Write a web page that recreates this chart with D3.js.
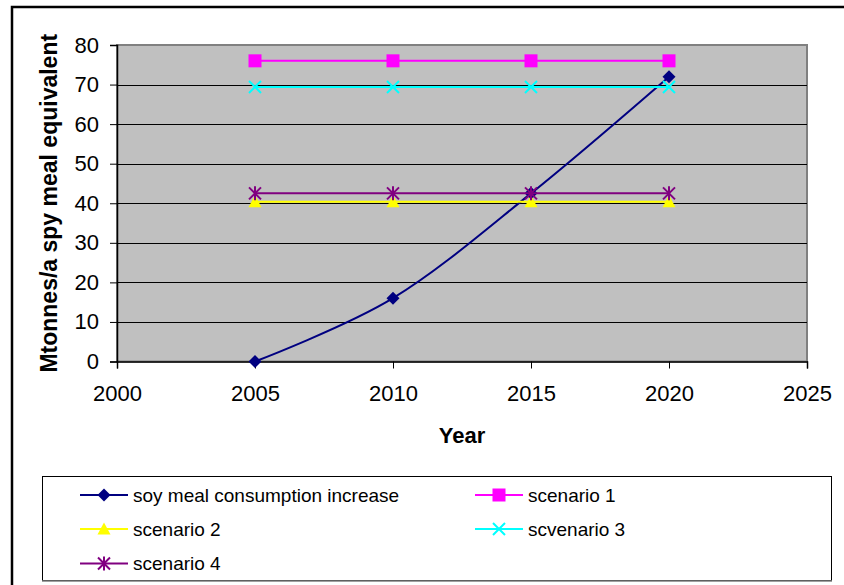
<!DOCTYPE html>
<html>
<head>
<meta charset="utf-8">
<script src="https://cdn.jsdelivr.net/npm/d3@7"></script>
<style>
  html, body { margin: 0; padding: 0; background: #fff; }
  svg { display: block; font-family: "Liberation Sans", Arial, sans-serif; }
</style>
</head>
<body>
<svg id="chart" width="844" height="585"></svg>
<script>
// Soy meal demand projection versus four supply scenarios
const years = [2005, 2010, 2015, 2020];
const soyConsumption = [0, 16, 42.5, 72];
const scenario1 = [76, 76, 76, 76];
const scenario2 = [40.4, 40.4, 40.4, 40.4];
const scenario3 = [69.4, 69.4, 69.4, 69.4];
const scenario4 = [42.5, 42.5, 42.5, 42.5];
const seriesNames = ["soy meal consumption increase", "scenario 1", "scenario 2", "scvenario 3", "scenario 4"];
const xTicks = [2000, 2005, 2010, 2015, 2020, 2025];
const yTicks = [0, 10, 20, 30, 40, 50, 60, 70, 80];

const series = [
  { name: seriesNames[0], values: soyConsumption, color: "#000080", marker: "diamond", smooth: true },
  { name: seriesNames[1], values: scenario1, color: "#FF00FF", marker: "square" },
  { name: seriesNames[2], values: scenario2, color: "#FFFF00", marker: "triangle" },
  { name: seriesNames[3], values: scenario3, color: "#00FFFF", marker: "x" },
  { name: seriesNames[4], values: scenario4, color: "#800080", marker: "star" }
];

const svg = d3.select("#chart");
const plot = { left: 117, right: 807, top: 45, bottom: 361.5 };

const x = d3.scaleLinear().domain([2000, 2025]).range([plot.left, plot.right]);
const y = d3.scaleLinear().domain([0, 80]).range([plot.bottom, plot.top]);

// outer chart frame
svg.append("rect")
  .attr("x", 12).attr("y", 7).attr("width", 900).attr("height", 700)
  .attr("fill", "#fff").attr("stroke", "#000").attr("stroke-width", 2.5);

// plot area
svg.append("rect")
  .attr("x", plot.left).attr("y", plot.top)
  .attr("width", plot.right - plot.left).attr("height", plot.bottom - plot.top)
  .attr("fill", "#C0C0C0").attr("stroke", "#808080").attr("stroke-width", 2);

// horizontal gridlines
svg.append("g").selectAll("line")
  .data(yTicks.filter(t => t > 0 && t < 80))
  .join("line")
  .attr("x1", plot.left).attr("x2", plot.right)
  .attr("y1", d => Math.round(y(d)) + 0.5).attr("y2", d => Math.round(y(d)) + 0.5)
  .attr("stroke", "#000").attr("stroke-width", 1);

// axes
const yAxis = d3.axisLeft(y).tickValues(yTicks).tickSize(7).tickPadding(11).tickFormat(d3.format("d"));
const xAxis = d3.axisBottom(x).tickValues(xTicks).tickSize(7).tickPadding(17).tickFormat(d3.format("d"));

const gy = svg.append("g").attr("transform", `translate(${plot.left},0)`).call(yAxis);
const gx = svg.append("g").attr("transform", `translate(0,${plot.bottom})`).call(xAxis);
[gx, gy].forEach(g => {
  g.select(".domain").attr("stroke", "#000").attr("stroke-width", 1.5);
  g.selectAll(".tick line").attr("stroke", "#000");
  g.selectAll(".tick text").attr("fill", "#000").attr("font-size", 22)
    .attr("font-family", "'Liberation Sans', Arial, sans-serif");
});

// axis titles
svg.append("text")
  .attr("x", (plot.left + plot.right) / 2).attr("y", 443)
  .attr("text-anchor", "middle").attr("font-size", 22).attr("font-weight", "bold")
  .text("Year");
svg.append("text")
  .attr("transform", `translate(57,${(plot.top + plot.bottom) / 2}) rotate(-90)`)
  .attr("text-anchor", "middle").attr("font-size", 23).attr("font-weight", "bold")
  .text("Mtonnes/a spy meal equivalent");

// marker shapes
function drawMarker(g, type, color, cx, cy) {
  if (type === "diamond") {
    g.append("path").attr("d", `M${cx},${cy - 6.5}L${cx + 6.5},${cy}L${cx},${cy + 6.5}L${cx - 6.5},${cy}Z`)
      .attr("fill", color);
  } else if (type === "square") {
    g.append("rect").attr("x", cx - 6.5).attr("y", cy - 6.5).attr("width", 13).attr("height", 13)
      .attr("fill", color);
  } else if (type === "triangle") {
    g.append("path").attr("d", `M${cx},${cy - 6.5}L${cx + 6.5},${cy + 5.5}L${cx - 6.5},${cy + 5.5}Z`)
      .attr("fill", color);
  } else if (type === "x") {
    g.append("path").attr("d", `M${cx - 6},${cy - 6}L${cx + 6},${cy + 6}M${cx + 6},${cy - 6}L${cx - 6},${cy + 6}`)
      .attr("stroke", color).attr("stroke-width", 2).attr("fill", "none");
  } else if (type === "star") {
    g.append("path").attr("d", `M${cx - 6},${cy - 6}L${cx + 6},${cy + 6}M${cx + 6},${cy - 6}L${cx - 6},${cy + 6}M${cx},${cy - 7}L${cx},${cy + 7}`)
      .attr("stroke", color).attr("stroke-width", 2).attr("fill", "none");
  }
}

// series lines and markers
series.forEach(s => {
  const pts = years.map((yr, i) => [yr, s.values[i]]);
  const line = d3.line().x(d => x(d[0])).y(d => y(d[1]))
    .curve(s.smooth ? d3.curveCardinal.tension(0) : d3.curveLinear);
  const g = svg.append("g");
  g.append("path").datum(pts).attr("d", line)
    .attr("fill", "none").attr("stroke", s.color).attr("stroke-width", 2);
  pts.forEach(p => drawMarker(g, s.marker, s.color, x(p[0]), y(p[1])));
});

// legend
const legend = svg.append("g");
legend.append("rect")
  .attr("x", 42.5).attr("y", 476.5).attr("width", 789).attr("height", 104)
  .attr("fill", "#fff").attr("stroke", "#000").attr("stroke-width", 1);
legend.append("line")
  .attr("x1", 42).attr("x2", 832).attr("y1", 581).attr("y2", 581)
  .attr("stroke", "#808080").attr("stroke-width", 1.5);

const colX = [80, 475];
const rowY = [495, 529, 563.5];
series.forEach((s, i) => {
  const lx = colX[i % 2];
  const ly = rowY[Math.floor(i / 2)];
  const g = legend.append("g");
  g.append("line").attr("x1", lx).attr("x2", lx + 48).attr("y1", ly).attr("y2", ly)
    .attr("stroke", s.color).attr("stroke-width", 2);
  drawMarker(g, s.marker, s.color, lx + 24, ly);
  g.append("text").attr("x", lx + 53).attr("y", ly).attr("dy", "0.36em")
    .attr("font-size", 19).attr("fill", "#000").text(s.name);
});
</script>
</body>
</html>
